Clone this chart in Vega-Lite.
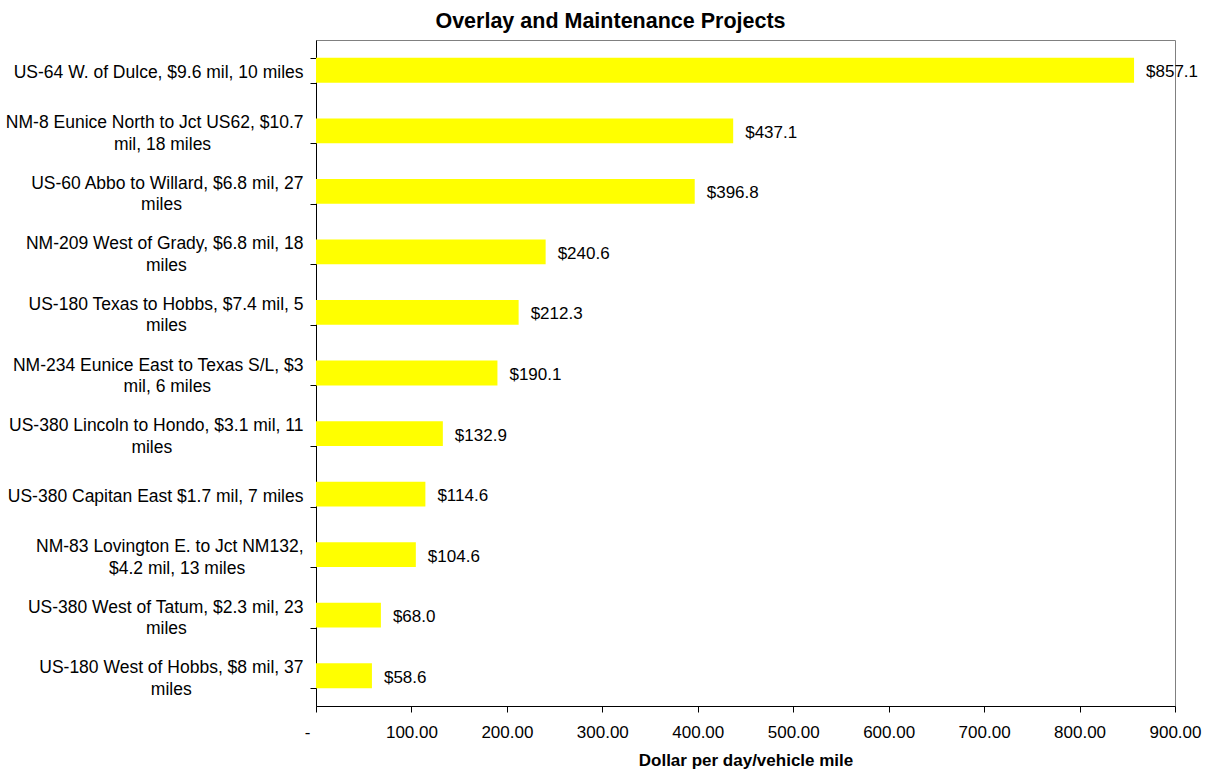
{
  "$schema": "https://vega.github.io/schema/vega-lite/v6.json",
  "autosize": "none",
  "width": 859,
  "height": 666,
  "padding": {"left": 316, "top": 40, "right": 33, "bottom": 63},
  "background": "white",
  "config": {
    "view": {"stroke": "#808080", "strokeWidth": 1},
    "font": "Liberation Sans"
  },
  "title": {
    "text": "Overlay and Maintenance Projects",
    "fontSize": 21.5,
    "fontWeight": "bold",
    "font": "Liberation Sans",
    "color": "black",
    "anchor": "middle",
    "dx": -135,
    "offset": -1
  },
  "data": {
    "values": [
      {"project": "US-64 W. of Dulce, $9.6 mil, 10 miles", "value": 857.1},
      {"project": "NM-8 Eunice North to Jct US62, $10.7|mil, 18 miles", "value": 437.1},
      {"project": "US-60 Abbo to Willard, $6.8 mil, 27|miles", "value": 396.8},
      {"project": "NM-209 West of Grady, $6.8 mil, 18|miles", "value": 240.6},
      {"project": "US-180 Texas to Hobbs, $7.4 mil, 5|miles", "value": 212.3},
      {"project": "NM-234 Eunice East to Texas S/L, $3|mil, 6 miles", "value": 190.1},
      {"project": "US-380 Lincoln to Hondo, $3.1 mil, 11|miles", "value": 132.9},
      {"project": "US-380 Capitan East $1.7 mil, 7 miles", "value": 114.6},
      {"project": "NM-83 Lovington E. to Jct NM132,|$4.2 mil, 13 miles", "value": 104.6},
      {"project": "US-380 West of Tatum, $2.3 mil, 23|miles", "value": 68.0},
      {"project": "US-180 West of Hobbs, $8 mil, 37|miles", "value": 58.6}
    ]
  },
  "encoding": {
    "y": {
      "field": "project",
      "type": "nominal",
      "sort": null,
      "scale": {"paddingInner": 0.59, "paddingOuter": 0.295},
      "axis": {
        "title": null,
        "labelExpr": "datum.value ? (indexof(datum.value, '|') < 0 ? datum.value : [split(datum.value, '|')[0], pad(split(datum.value, '|')[1], length(split(datum.value, '|')[1]) + round((length(split(datum.value, '|')[0]) - length(split(datum.value, '|')[1])) * 0.84), '\u00a0') + '\u200b']) : ''",
        "labelFontSize": 17.5,
        "labelFont": "Liberation Sans",
        "labelColor": "black",
        "labelLimit": 600,
        "labelLineHeight": 21.5,
        "labelOffset": {"condition": {"test": "datum.value && indexof(datum.value, '|') >= 0", "value": -8}, "value": 2},
        "tickBand": "extent",
        "tickSize": 6,
        "tickColor": "black",
        "domainColor": "black",
        "labelPadding": 7
      }
    }
  },
  "layer": [
    {
      "mark": {"type": "bar", "color": "#FFFF00"},
      "encoding": {
        "x": {
          "field": "value",
          "type": "quantitative",
          "scale": {"domain": [0, 900]},
          "axis": {
            "title": "Dollar per day/vehicle mile",
            "titleFontSize": 17,
            "titleFontWeight": "bold",
            "titleColor": "black",
            "titleFont": "Liberation Sans",
            "titlePadding": 12,
            "values": [0, 100, 200, 300, 400, 500, 600, 700, 800, 900],
            "labelExpr": "datum.value == 0 ? '-' : format(datum.value, '.2f')",
            "labelOffset": {"condition": {"test": "datum.value == 0", "value": -9}, "value": 0},
            "labelFontSize": 17,
            "labelFont": "Liberation Sans",
            "labelColor": "black",
            "labelFlush": false,
            "labelPadding": 12,
            "tickSize": 6,
            "tickColor": "black",
            "domainColor": "black",
            "grid": false
          }
        }
      }
    },
    {
      "mark": {"type": "text", "align": "left", "dx": 12, "dy": 2, "fontSize": 17, "font": "Liberation Sans", "color": "black"},
      "encoding": {
        "x": {"field": "value", "type": "quantitative"},
        "text": {"field": "value", "type": "quantitative", "format": "$,.1f"}
      }
    }
  ]
}
